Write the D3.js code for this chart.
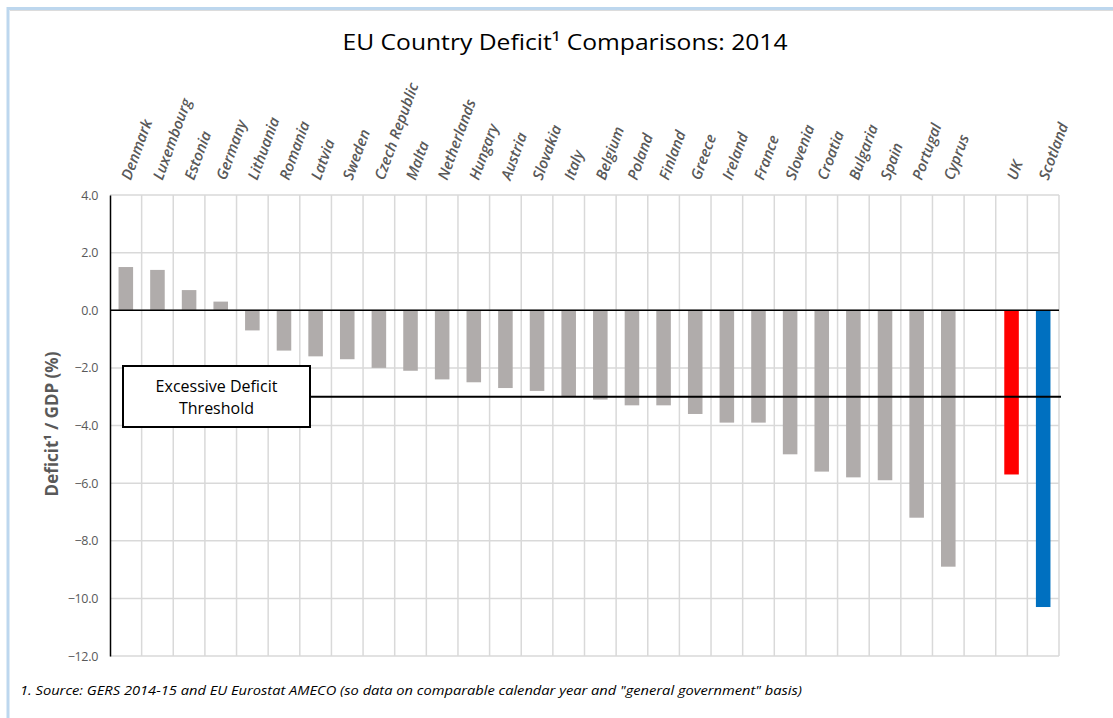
<!DOCTYPE html>
<html>
<head>
<meta charset="utf-8">
<script src="https://cdn.jsdelivr.net/npm/d3@7"></script>
<style>
  html, body { margin: 0; padding: 0; background: #fff; }
  svg { display: block; }
</style>
</head>
<body>
<svg id="chart" width="1113" height="718"></svg>
<script>
const categories = ["Denmark","Luxembourg","Estonia","Germany","Lithuania","Romania","Latvia","Sweden","Czech Republic","Malta","Netherlands","Hungary","Austria","Slovakia","Italy","Belgium","Poland","Finland","Greece","Ireland","France","Slovenia","Croatia","Bulgaria","Spain","Portugal","Cyprus","","UK","Scotland"];
const values = [1.5,1.4,0.7,0.3,-0.7,-1.4,-1.6,-1.7,-2.0,-2.1,-2.4,-2.5,-2.7,-2.8,-3.0,-3.1,-3.3,-3.3,-3.6,-3.9,-3.9,-5.0,-5.6,-5.8,-5.9,-7.2,-8.9,null,-5.7,-10.3];
const yTicks = [4,2,0,-2,-4,-6,-8,-10,-12];
const threshold = -3.0;
const titleText = "EU Country Deficit\u00B9 Comparisons: 2014";
const yAxisTitle = "Deficit\u00B9 / GDP (%)";
const thresholdLabel = ["Excessive Deficit", "Threshold"];
const footnote = "1. Source: GERS 2014-15 and EU Eurostat AMECO (so data on comparable calendar year and \"general government\" basis)";

const svg = d3.select("#chart");
const W = 1113, H = 718;
const plot = { left: 110, right: 1059, top: 195, bottom: 656 };

// outer chart border (light blue)
svg.append("rect").attr("x", 8).attr("y", 8.5).attr("width", W + 20).attr("height", H + 20)
  .attr("fill", "none").attr("stroke", "#bdd7ee").attr("stroke-width", 3);
svg.append("line").attr("x1", 10).attr("x2", W).attr("y1", 10.5).attr("y2", 10.5)
  .attr("stroke", "#dcdcdc").attr("stroke-width", 1);

const x = d3.scaleBand().domain(d3.range(categories.length))
  .range([plot.left, plot.right]).paddingInner(0.54).paddingOuter(0.27);
const y = d3.scaleLinear().domain([-12, 4]).range([plot.bottom, plot.top]);
const step = x.step();

// title
svg.append("text").attr("x", 565).attr("y", 50).attr("text-anchor", "middle")
  .attr("font-family", "Open Sans, sans-serif").attr("font-size", 22.5).attr("fill", "#000")
  .attr("textLength", 445).attr("lengthAdjust", "spacingAndGlyphs")
  .text(titleText);

// horizontal gridlines
svg.append("g").selectAll("line").data(yTicks).join("line")
  .attr("x1", plot.left).attr("x2", plot.right)
  .attr("y1", d => y(d)).attr("y2", d => y(d))
  .attr("stroke", "#d9d9d9").attr("stroke-width", 1.5);

// vertical gridlines at category boundaries
svg.append("g").selectAll("line").data(d3.range(1, categories.length + 1)).join("line")
  .attr("x1", i => plot.left + i * step).attr("x2", i => plot.left + i * step)
  .attr("y1", plot.top).attr("y2", plot.bottom)
  .attr("stroke", "#d9d9d9").attr("stroke-width", 1.5);

// y axis
const yAxis = d3.axisLeft(y).tickValues(yTicks).tickFormat(d3.format(".1f")).tickSize(0).tickPadding(12);
const gy = svg.append("g").attr("transform", `translate(${plot.left},0)`).call(yAxis);
gy.select(".domain").attr("stroke", "#000").attr("stroke-width", 1.5);
gy.selectAll("text").attr("font-family", "Open Sans, sans-serif").attr("font-size", 12.5)
  .attr("fill", "#595959").attr("letter-spacing", "-0.3px");

// bars
const barColor = (c) => c === "UK" ? "#ff0000" : c === "Scotland" ? "#0070c0" : "#b0acab";
svg.append("g").selectAll("rect").data(values.map((v, i) => ({ v, i })).filter(d => d.v !== null)).join("rect")
  .attr("x", d => x(d.i)).attr("width", x.bandwidth())
  .attr("y", d => y(Math.max(0, d.v))).attr("height", d => Math.abs(y(d.v) - y(0)))
  .attr("fill", d => barColor(categories[d.i]));

// zero line
svg.append("line").attr("x1", plot.left).attr("x2", plot.right)
  .attr("y1", y(0)).attr("y2", y(0)).attr("stroke", "#000").attr("stroke-width", 1.5);

// threshold line
svg.append("line").attr("x1", 310).attr("x2", plot.right + 2)
  .attr("y1", y(threshold)).attr("y2", y(threshold)).attr("stroke", "#000").attr("stroke-width", 2);

// threshold label box
svg.append("rect").attr("x", 123).attr("y", 366).attr("width", 187).attr("height", 61)
  .attr("fill", "#fff").attr("stroke", "#000").attr("stroke-width", 2);
svg.append("g").selectAll("text").data(thresholdLabel).join("text")
  .attr("x", 216.5).attr("y", (d, i) => 392 + i * 22).attr("text-anchor", "middle")
  .attr("font-family", "Open Sans, sans-serif").attr("font-size", 16).attr("fill", "#000")
  .text(d => d);

// category labels
svg.append("g").selectAll("text").data(categories).join("text")
  .attr("transform", (d, i) => `translate(${x(i) + x.bandwidth() / 2 + 5},181) rotate(-70)`)
  .attr("text-anchor", "start")
  .attr("font-family", "Open Sans, sans-serif").attr("font-size", 15).attr("font-style", "italic")
  .attr("font-weight", 600).attr("fill", "#595959")
  .text(d => d);

// y axis title
svg.append("text").attr("transform", `translate(58,424) rotate(-90)`).attr("text-anchor", "middle")
  .attr("font-family", "Open Sans, sans-serif").attr("font-size", 17).attr("font-weight", 700)
  .attr("fill", "#595959").text(yAxisTitle);

// footnote
svg.append("text").attr("x", 20).attr("y", 695)
  .attr("font-family", "Open Sans, sans-serif").attr("font-size", 13).attr("font-style", "italic")
  .attr("fill", "#000").attr("textLength", 782).attr("lengthAdjust", "spacingAndGlyphs")
  .text(footnote);
</script>
</body>
</html>
